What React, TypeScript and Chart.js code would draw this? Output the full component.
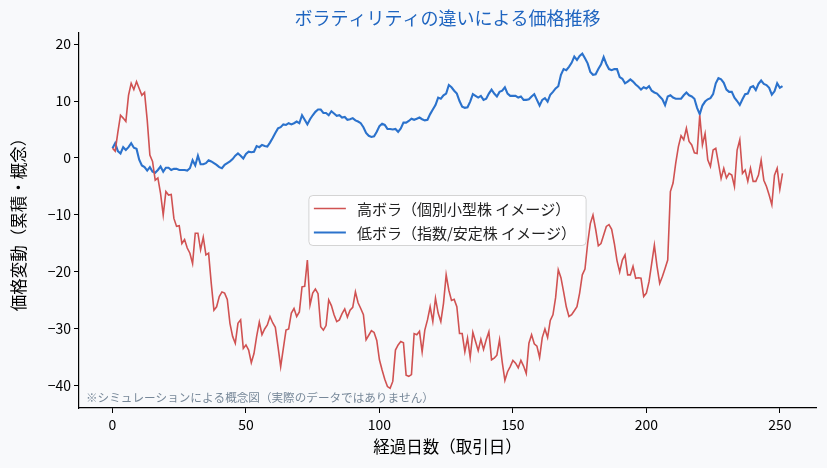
import React, { useEffect, useRef } from 'react';
import { Chart, registerables } from 'chart.js';

Chart.register(...registerables);

const FONT = "'Noto Sans CJK JP', 'Noto Sans', sans-serif";
const BG = '#f8f9fb';
const RED = '#d05252';
const BLUE = '#2b72cc';

const TITLE = 'ボラティリティの違いによる価格推移';
const X_LABEL = '経過日数（取引日）';
const Y_LABEL = '価格変動（累積・概念）';
const NOTE = '※シミュレーションによる概念図（実際のデータではありません）';
const SERIES_LABELS = ['高ボラ（個別小型株 イメージ）', '低ボラ（指数/安定株 イメージ）'];

const X_TICKS = [0, 50, 100, 150, 200, 250];
const Y_TICKS = [-40, -30, -20, -10, 0, 10, 20];

const HIGH_VOL = [
  1.7, 1.2, 4.5, 7.5, 7.0, 6.4, 11.0, 13.1, 12.0, 13.4,
  12.2, 11.0, 11.5, 6.7, 0.5, -0.6, -3.9, -3.5, -6.2, -10.0,
  -5.9, -6.5, -6.4, -10.6, -12.0, -11.9, -15.0, -14.3, -15.8, -16.7,
  -18.5, -13.2, -13.2, -16.1, -13.9, -17.0, -16.7, -22.0, -26.7, -26.1,
  -24.3, -23.5, -23.7, -24.8, -29.0, -31.3, -32.5, -29.0, -28.4, -33.4,
  -32.8, -33.7, -35.9, -34.3, -31.3, -28.8, -31.0, -30.0, -29.3, -27.8,
  -28.9, -29.7, -33.1, -36.6, -33.4, -30.2, -30.0, -27.2, -26.4, -27.8,
  -27.0, -22.6, -22.5, -17.9, -25.8, -23.7, -23.0, -23.8, -29.6, -30.2,
  -29.4, -24.9, -25.9, -27.5, -28.7, -28.4, -27.3, -26.5, -27.9, -26.7,
  -26.2, -23.5, -25.4, -26.4, -27.5, -31.9, -31.1, -30.3, -30.6, -32.0,
  -35.4, -37.2, -38.8, -40.1, -40.4, -39.2, -33.7, -32.8, -32.2, -32.4,
  -38.1, -38.3, -38.0, -30.8, -31.0, -30.4, -34.0, -30.2, -28.4, -26.1,
  -28.7, -24.6, -27.2, -28.7, -25.5, -20.5, -23.2, -25.0, -24.8, -26.1,
  -30.8, -30.8, -34.0, -31.6, -35.0, -30.6, -32.2, -33.8, -31.8, -33.6,
  -31.9, -30.5, -35.4, -35.1, -34.6, -31.9, -35.8, -39.0, -37.5, -36.6,
  -35.5, -36.0, -36.8, -35.5, -36.5, -37.8, -32.5, -31.0, -32.6, -33.0,
  -35.0, -31.5, -30.0, -31.5, -28.5, -27.5, -24.5, -19.6, -21.0, -23.5,
  -26.1, -27.8, -27.5, -26.8, -26.1, -23.7, -20.5, -19.5, -15.0, -11.5,
  -10.0, -12.5, -15.4, -15.0, -13.5, -12.0, -11.7, -12.5, -15.0, -18.0,
  -20.0, -17.9, -17.0, -20.5, -20.5, -19.0, -21.1, -21.0, -21.1, -24.3,
  -23.7, -21.7, -18.5, -15.3, -19.0, -22.0, -20.8, -19.4, -17.9, -5.9,
  -4.4, -0.9, 2.0, 3.9, 3.2, 5.2, 2.9, 2.3, 0.9, 0.8,
  7.5, 2.3, 4.3, -0.3, -1.5, 1.4, 1.7, -0.9, -3.6, -1.8,
  -3.5, -2.7, -3.0, -5.0, 1.4, 3.2, -2.7, -2.1, -4.1, -1.8,
  -4.1, -4.1, -3.0, -0.4, -3.9, -5.0, -6.5, -8.2, -3.0, -1.8,
  -5.5, -2.7,
];

const LOW_VOL = [
  1.7, 2.6, 1.2, 0.8, 1.9, 1.4, 1.9, 2.6, 1.8, 1.6,
  -0.3, -1.3, -1.6, -2.2, -1.6, -2.4, -2.6, -2.1, -1.5, -2.4,
  -1.7, -1.7, -2.1, -1.9, -1.9, -2.1, -2.1, -2.1, -2.2, -1.8,
  -0.4, -1.3, 0.4, -1.1, -1.1, -0.9, -0.4, -0.6, -0.9, -1.2,
  -1.6, -1.8, -1.2, -0.9, -0.6, -0.2, 0.4, 0.8, 0.4, -0.1,
  0.7, 1.1, 1.0, 1.1, 2.1, 1.9, 2.3, 2.1, 2.0, 2.7,
  3.5, 4.4, 5.2, 5.4, 5.9, 5.8, 6.1, 5.9, 6.1, 6.4,
  6.1, 7.5, 6.7, 5.9, 6.8, 7.5, 8.1, 8.5, 8.5, 7.9,
  7.9, 7.5, 8.2, 7.8, 7.4, 7.5, 7.1, 7.2, 6.7, 6.8,
  7.0, 6.6, 6.4, 6.1, 5.4, 4.4, 3.9, 3.7, 3.8, 4.6,
  5.6, 6.0, 5.8, 5.1, 5.1, 5.0, 5.1, 4.6, 5.2, 6.2,
  6.2, 6.5, 6.9, 6.7, 6.9, 7.1, 6.8, 6.6, 6.7, 7.7,
  8.5, 9.3, 10.6, 10.4, 11.0, 11.3, 12.8, 12.4, 11.8, 11.3,
  10.0, 9.0, 8.8, 8.9, 9.9, 11.2, 10.9, 10.6, 10.9, 10.2,
  10.4, 11.3, 12.0, 11.3, 10.8, 11.6, 11.8, 12.4, 11.3, 10.9,
  10.9, 10.9, 10.6, 10.8, 10.2, 10.2, 10.3, 10.8, 11.2, 10.2,
  9.2, 10.2, 10.5, 9.9, 11.1, 11.6, 12.2, 12.6, 14.6, 15.6,
  15.4, 16.0, 16.7, 17.8, 17.2, 17.9, 18.3, 17.5, 16.6, 15.1,
  14.6, 14.7, 15.6, 16.4, 17.7, 16.5, 15.6, 15.4, 15.6, 15.6,
  14.2, 13.9, 13.1, 13.4, 13.8, 13.4, 12.9, 12.5, 12.0, 12.4,
  12.2, 12.6, 11.8, 11.5, 11.3, 10.8, 10.3, 9.3, 10.8, 11.0,
  10.6, 10.4, 10.4, 10.4, 11.0, 11.5, 11.0, 10.8, 10.4, 8.8,
  7.7, 9.2, 9.9, 10.3, 10.5, 11.2, 13.1, 14.0, 13.8, 13.2,
  12.0, 11.6, 11.6, 10.6, 10.0, 9.3, 10.3, 11.2, 11.3, 12.4,
  12.6, 11.9, 13.0, 13.6, 13.0, 12.8, 12.3, 11.1, 11.7, 13.1,
  12.3, 12.6,
];

const X_MIN = -12.55;
const X_MAX = 263.55;
const Y_MIN = -43.86;
const Y_MAX = 21.93;

const fmt = (v: number) => (v < 0 ? '\u2212' + Math.abs(v) : String(v));

const overlayPlugin = {
  id: 'overlay',
  beforeDraw(chart: any) {
    const { ctx, width, height } = chart;
    ctx.save();
    ctx.fillStyle = BG;
    ctx.fillRect(0, 0, width, height);
    ctx.restore();
  },
  afterDatasetsDraw(chart: any) {
    const { ctx, chartArea: ca } = chart;
    ctx.save();
    // note text
    ctx.font = `11.6px ${FONT}`;
    ctx.fillStyle = '#778899';
    ctx.textAlign = 'left';
    ctx.textBaseline = 'middle';
    ctx.fillText(NOTE, ca.left + 7, ca.bottom - 10);

    // legend box (centre of the axes)
    const cx = (ca.left + ca.right) / 2;
    const cy = (ca.top + ca.bottom) / 2;
    ctx.font = `15px ${FONT}`;
    const datasets = chart.data.datasets;
    const textW = Math.max(...datasets.map((d: any) => ctx.measureText(d.label).width));
    const lineLen = 32;
    const boxW = 5 + lineLen + 11 + textW + 10;
    const rowH = 24;
    const boxH = rowH * datasets.length + 2;
    const bx = cx - boxW / 2;
    const by = cy - boxH / 2;
    ctx.beginPath();
    ctx.roundRect(bx, by, boxW, boxH, 4);
    ctx.fillStyle = 'rgba(255,255,255,0.85)';
    ctx.fill();
    ctx.strokeStyle = '#d4d4d4';
    ctx.lineWidth = 1;
    ctx.stroke();
    datasets.forEach((d: any, i: number) => {
      const y = by + 1 + rowH * (i + 0.5);
      ctx.beginPath();
      ctx.moveTo(bx + 5, y);
      ctx.lineTo(bx + 5 + lineLen, y);
      ctx.strokeStyle = d.borderColor;
      ctx.lineWidth = d.borderWidth;
      ctx.stroke();
      ctx.fillStyle = '#222';
      ctx.textBaseline = 'middle';
      ctx.fillText(d.label, bx + 5 + lineLen + 11, y + 1);
    });
    ctx.restore();
  },
  afterDraw(chart: any) {
    const { ctx, chartArea: ca } = chart;
    ctx.save();
    ctx.font = `18px ${FONT}`;
    ctx.fillStyle = '#1f65c0';
    ctx.textAlign = 'center';
    ctx.textBaseline = 'middle';
    ctx.fillText(TITLE, (ca.left + ca.right) / 2, 18);
    ctx.restore();
  },
};

export default function App() {
  const canvasRef = useRef<HTMLCanvasElement | null>(null);

  useEffect(() => {
    document.body.style.margin = '0';
    document.body.style.background = BG;
    const canvas = canvasRef.current;
    if (!canvas) return;
    const days = HIGH_VOL.map((_, i) => i);
    const tickFont = { family: FONT, size: 14 };
    const chart = new Chart(canvas, {
      type: 'line',
      data: {
        datasets: [
          {
            label: SERIES_LABELS[0],
            data: HIGH_VOL.map((v, i) => ({ x: days[i], y: v })),
            borderColor: RED,
            borderWidth: 1.6,
            pointRadius: 0,
            tension: 0,
            fill: false,
          },
          {
            label: SERIES_LABELS[1],
            data: LOW_VOL.map((v, i) => ({ x: days[i], y: v })),
            borderColor: BLUE,
            borderWidth: 2.1,
            pointRadius: 0,
            tension: 0,
            fill: false,
          },
        ],
      },
      options: {
        animation: false,
        responsive: false,
        devicePixelRatio: 1,
        layout: { padding: { top: 33, right: 11, left: 0, bottom: 0 } },
        plugins: {
          legend: { display: false },
          title: { display: false },
          tooltip: { enabled: false },
        },
        scales: {
          x: {
            type: 'linear',
            min: X_MIN,
            max: X_MAX,
            afterBuildTicks: (s: any) => {
              s.ticks = X_TICKS.map((v) => ({ value: v }));
            },
            afterFit: (s: any) => {
              s.height = 60;
            },
            grid: { display: true, drawOnChartArea: false, drawTicks: true, tickLength: 5, color: '#000', lineWidth: 1 },
            border: { display: true, color: '#000', width: 1.2 },
            ticks: { color: '#000', font: tickFont, padding: 3, maxRotation: 0, autoSkip: false, callback: (v: any) => fmt(Number(v)) },
            title: { display: true, text: X_LABEL, color: '#000', font: { family: FONT, size: 16.5 }, padding: { top: 0, bottom: 11 } },
          },
          y: {
            type: 'linear',
            min: Y_MIN,
            max: Y_MAX,
            afterBuildTicks: (s: any) => {
              s.ticks = Y_TICKS.map((v) => ({ value: v }));
            },
            afterFit: (s: any) => {
              s.width = 79;
            },
            grid: { display: true, drawOnChartArea: false, drawTicks: true, tickLength: 5, color: '#000', lineWidth: 1 },
            border: { display: true, color: '#000', width: 1.2 },
            ticks: { color: '#000', font: tickFont, padding: 3, autoSkip: false, callback: (v: any) => fmt(Number(v)) },
            title: { display: true, text: Y_LABEL, color: '#000', font: { family: FONT, size: 16.5 }, padding: { top: 9, bottom: 0 } },
          },
        },
      },
      plugins: [overlayPlugin],
    } as any);
    return () => chart.destroy();
  }, []);

  return (
    <div style={{ width: 827, height: 468, background: BG }}>
      <canvas ref={canvasRef} width={827} height={468} style={{ display: 'block' }} />
    </div>
  );
}
